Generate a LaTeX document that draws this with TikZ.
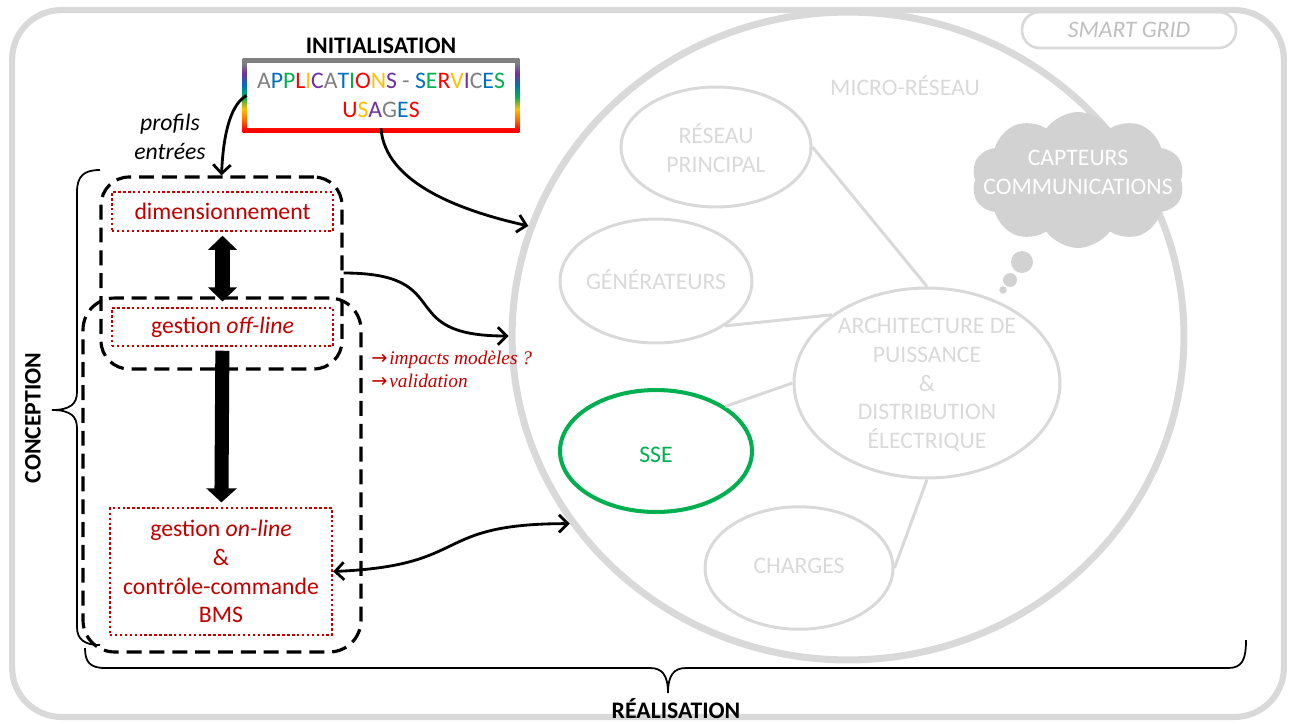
\documentclass[tikz,border=0pt]{standalone}
\usepackage{fontspec}
\setmainfont{Carlito}
\newfontfamily\notefont{Liberation Serif}
\newfontfamily\arrowfont{DejaVu Sans}
\usetikzlibrary{positioning,arrows.meta,shapes.geometric,shapes.symbols,calc,backgrounds}
\definecolor{GridGray}{RGB}{217,217,217}
\definecolor{GridLabel}{RGB}{191,191,191}
\definecolor{CloudGray}{RGB}{210,210,210}
\definecolor{TaskRed}{RGB}{192,0,0}
\definecolor{SseGreen}{RGB}{0,176,80}
\definecolor{RbGray}{RGB}{128,128,128}
\definecolor{RbBlue}{RGB}{0,112,192}
\definecolor{RbGreen}{RGB}{0,176,80}
\definecolor{RbRed}{RGB}{255,0,0}
\definecolor{RbOrange}{RGB}{255,102,0}
\definecolor{RbYellow}{RGB}{255,192,0}
\definecolor{RbPurple}{RGB}{112,48,160}
\newcommand{\diagsize}{\fontsize{13.5pt}{16.4pt}\selectfont}
\newcommand{\notearrow}{{\arrowfont\upshape\fontsize{11pt}{13pt}\selectfont →}\kern1pt}
\newcommand{\lgray}[1]{\textcolor{RbGray}{#1}}
\newcommand{\lblue}[1]{\textcolor{RbBlue}{#1}}
\newcommand{\lgreen}[1]{\textcolor{RbGreen}{#1}}
\newcommand{\lred}[1]{\textcolor{RbRed}{#1}}
\newcommand{\lyellow}[1]{\textcolor{RbYellow}{#1}}
\newcommand{\lpurple}[1]{\textcolor{RbPurple}{#1}}
\pgfdeclareverticalshading{rainbowframe}{100bp}{color(0bp)=(RbRed); color(27bp)=(RbRed); color(33bp)=(RbOrange);
  color(41bp)=(RbYellow); color(49bp)=(RbGreen); color(57bp)=(RbBlue); color(65bp)=(RbPurple);
  color(72bp)=(RbGray); color(100bp)=(RbGray)}
\tikzset{
  grid frame/.style={draw=GridGray, line width=3.5pt, rounded corners=28pt},
  grid pill/.style={draw=GridGray, line width=1.5pt, rounded corners=10pt, text=GridLabel,
    font=\diagsize\itshape, minimum width=4.28cm, minimum height=0.72cm},
  grid ellipse/.style={ellipse, draw=GridGray, line width=1.7pt, inner sep=0pt},
  sse ellipse/.style={ellipse, draw=SseGreen, line width=2.3pt, inner sep=0pt},
  grid text/.style={text=GridGray, font=\diagsize, align=center},
  grid link/.style={draw=GridGray, line width=1.7pt},
  bubble/.style={circle, fill=CloudGray, inner sep=0pt},
  init box/.style={fill=white, font=\diagsize, align=center, minimum width=5.36cm, minimum height=1.3cm},
  phase box/.style={draw=black, line width=1.8pt, dash pattern=on 8.5pt off 4.5pt, rounded corners=16pt},
  task box/.style={draw=TaskRed, line width=1.4pt, dash pattern=on 1.4pt off 1.4pt, text=TaskRed,
    font=\diagsize, align=center, inner sep=0pt, minimum width=4.42cm},
  big arrow/.style={line width=8pt},
  flow arrow/.style={line width=1.6pt, -{Straight Barb[length=5pt,width=10pt]}},
  phase label/.style={font=\diagsize\bfseries},
  brace line/.style={line width=1pt},
  impact note/.style={text=TaskRed, font=\notefont\itshape\fontsize{11pt}{13pt}\selectfont, align=left}
}
\begin{document}
\begin{tikzpicture}[x=0.02cm,y=-0.02cm]
\useasboundingbox (0,0) rectangle (1293,723);
% smart grid
\node[grid frame, minimum width=25.44cm, minimum height=14.14cm] (smartgrid) at (648,363.5) {};
\node[grid pill] (sglabel) at (1129,30) {SMART GRID};
% micro-reseau
\node[grid ellipse, line width=4pt, minimum width=13.44cm, minimum height=12.96cm] (mgrid) at (848,336) {};
\node[grid text] (mglabel) at (905,86) {MICRO-RÉSEAU};
\node[grid ellipse, minimum width=3.8cm, minimum height=2.4cm] (reseau) at (716,147) {};
\node[grid ellipse, minimum width=3.84cm, minimum height=2.48cm] (gen) at (656,281) {};
\node[grid ellipse, minimum width=5.32cm, minimum height=3.8cm] (archi) at (927,383) {};
\node[sse ellipse, minimum width=3.84cm, minimum height=2.44cm] (sse) at (656,451) {};
\node[grid ellipse, minimum width=3.76cm, minimum height=2.45cm] (charges) at (799,568) {};
\node[grid text] (reseautxt) at (716,148) {RÉSEAU\\PRINCIPAL};
\node[grid text] (gentxt) at (656,280) {GÉNÉRATEURS};
\node[grid text] (architxt) at (927,385) {ARCHITECTURE DE\\PUISSANCE\\\&\\DISTRIBUTION\\ÉLECTRIQUE};
\node[grid text, text=SseGreen] (ssetxt) at (656,455) {SSE};
\node[grid text] (chargestxt) at (799,566) {CHARGES};
\draw[grid link] (reseau.east) -- (archi.north);
\draw[grid link] (gen.south east) -- (archi.north west);
\draw[grid link] (sse.north east) -- (archi.west);
\draw[grid link] (charges.east) -- (archi.south);
% capteurs
\node[cloud, cloud puffs=10, cloud puff arc=110, fill=CloudGray, minimum width=4.26cm, minimum height=2.72cm] (sensors) at (1078,180) {};
\node[grid text, text=white] (sensortxt) at (1078,172.5) {CAPTEURS\\COMMUNICATIONS};
\node[bubble, minimum size=0.44cm] (bub1) at (1022,262) {};
\node[bubble, minimum size=0.28cm] (bub2) at (1010,280) {};
\node[bubble, minimum size=0.15cm] (bub3) at (1003,290) {};
% initialisation
\node[phase label] (inittitle) at (381,46) {INITIALISATION};
\node[init box] (app) at (381,95.5) {\lgray{A}\lblue{P}\lgreen{P}\lred{L}\lyellow{I}\lpurple{C}\lgray{A}\lblue{T}\lgreen{I}\lred{O}\lyellow{N}\lpurple{S} \lgray{-} \lblue{S}\lgreen{E}\lred{R}\lyellow{V}\lpurple{I}\lgray{C}\lblue{E}\lgreen{S}\\\lred{U}\lyellow{S}\lpurple{A}\lgray{G}\lblue{E}\lred{S}};
\begin{scope}[on background layer]
\shade[shading=rainbowframe] ($(app.north west)+(-4,-4)$) rectangle ($(app.south east)+(4,4)$);
\end{scope}
% conception
\node[phase box, minimum width=4.82cm, minimum height=3.84cm] (design) at (221.5,273) {};
\node[phase box, rounded corners=18pt, minimum width=5.56cm, minimum height=7.08cm] (operate) at (222,475) {};
\node[task box, minimum height=0.78cm] (dim) at (222.5,211.5) {dimensionnement};
\node[task box, minimum height=0.76cm] (off) at (222.5,327) {gestion \textit{off-line}};
\node[task box, minimum width=4.44cm, minimum height=2.54cm] (on) at (221,571.5) {gestion \textit{on-line}\\\&\\contrôle-commande\\BMS};
\draw[big arrow, {Triangle[length=8pt,width=16pt]}-{Triangle[length=8pt,width=16pt]}, shorten <=2pt, shorten >=3pt] (dim) -- (off);
\draw[big arrow, -{Triangle[length=8pt,width=17pt]}, shorten <=2pt, shorten >=2.5pt] (off) -- (on);
\node[font=\diagsize\itshape, align=center] (profils) at (170,137) {profils\\entrées};
\draw[flow arrow] (app.west) .. controls +(-15,8) and +(2,-45) .. (design.north);
\draw[flow arrow] (app.south) .. controls +(4,55) and +(-67,-15) .. (mgrid.161);
\draw[flow arrow] (design.east) .. controls +(115,0) and +(-117,0) .. (mgrid.west);
\draw[flow arrow, {Straight Barb[length=5pt,width=10pt]}-{Straight Barb[length=5pt,width=10pt]}] (on.east) .. controls +(140,-6) and +(-140,0) .. (mgrid.214);
\node[impact note, anchor=west, inner sep=0pt] (impacts) at (371,369.5) {\notearrow impacts modèles ?\\\notearrow validation};
% braces
\draw[brace line] (100,170) .. controls (84,170) and (77,176) .. (77,192) -- (77,392) .. controls (77,404) and (70,410) .. (52,410)
  .. controls (70,410) and (77,416) .. (77,428) -- (77,627) .. controls (77,639) and (84,645) .. (100,645);
\node[phase label, rotate=90] (concept) at (33,418) {CONCEPTION};
\draw[brace line] (85,648) .. controls (85,662) and (90,668) .. (105,668) -- (650,668) .. controls (662,668) and (668,675) .. (668,693)
  .. controls (668,675) and (674,668) .. (686,668) -- (1228,668) .. controls (1242,668) and (1246,660) .. (1246,640);
\node[phase label, inner sep=0pt] (realis) at (676,709) {RÉALISATION};
\end{tikzpicture}
\end{document}
